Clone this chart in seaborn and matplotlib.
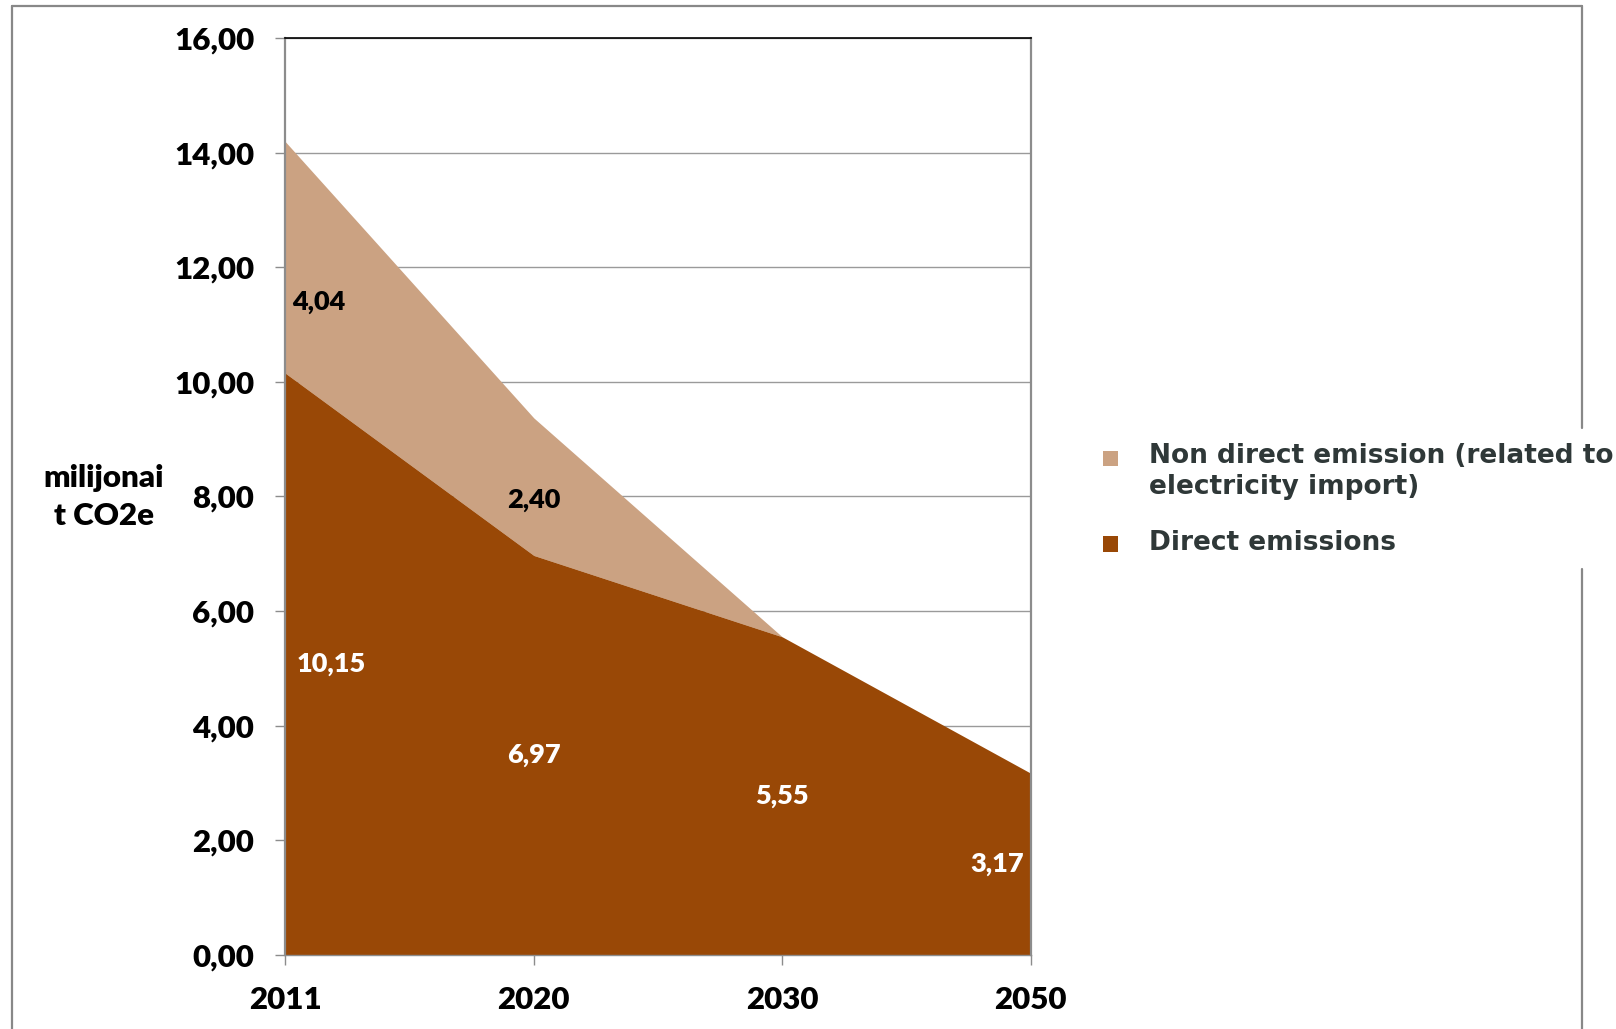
import matplotlib
matplotlib.use("Agg")
import matplotlib.pyplot as plt
from matplotlib.lines import Line2D
from matplotlib.patches import Rectangle
import seaborn as sns
import pandas as pd

# Emission scenario data (million t CO2e)
years = ["2011", "2020", "2030", "2050"]
direct = [10.15, 6.97, 5.55, 3.17]
non_direct = [4.04, 2.40, 0.0, 0.0]
y_ticks = [0, 2, 4, 6, 8, 10, 12, 14, 16]

series_names = ["Non direct emission (related to\nelectricity import)", "Direct emissions"]
c_direct = "#994806"
c_non_direct = "#CBA282"

sns.set_theme(style="white")
plt.rcParams["font.family"] = ["Lato", "DejaVu Sans"]

df = pd.DataFrame({"year": years, "direct": direct, "non_direct": non_direct})
df["x"] = range(len(years))
df["total"] = df["direct"] + df["non_direct"]

# layout grid in a 1568 x 998 reference frame
W, H = 1568, 998

fig = plt.figure(figsize=(16.16, 10.29), dpi=100)
ax = fig.add_axes([277 / W, 1 - 926 / H, 723 / W, 889 / H])

ax.set_axisbelow(True)
ax.yaxis.grid(True, color="#9a9a9a", linewidth=1.0)

sns.lineplot(data=df, x="x", y="total", ax=ax, color=c_non_direct, linewidth=0, legend=False)
sns.lineplot(data=df, x="x", y="direct", ax=ax, color=c_direct, linewidth=0, legend=False)
ax.fill_between(df["x"], df["direct"], df["total"], color=c_non_direct, linewidth=0, zorder=2)
ax.fill_between(df["x"], 0, df["direct"], color=c_direct, linewidth=0, zorder=3)

ax.set_xlim(0, len(years) - 1)
ax.set_ylim(0, 16)
ax.set_xticks(df["x"])
ax.set_xticklabels(years)
ax.set_yticks(y_ticks)
ax.set_yticklabels([f"{v:.2f}".replace(".", ",") for v in y_ticks])
ax.set_xlabel("")
ax.set_ylabel("")

ax.tick_params(axis="both", which="major", direction="out", length=7.5, width=1.0,
               color="#8c8c8c", pad=15, labelsize=22.5, labelcolor="black")
ax.tick_params(axis="x", bottom=True)
ax.tick_params(axis="y", left=True)
for lbl in ax.get_xticklabels() + ax.get_yticklabels():
    lbl.set_fontweight("heavy")

for side in ["left", "right"]:
    ax.spines[side].set_color("#8c8c8c")
    ax.spines[side].set_linewidth(1.6)
ax.spines["top"].set_color("black")
ax.spines["top"].set_linewidth(1.2)
ax.spines["bottom"].set_color("#8c8c8c")
ax.spines["bottom"].set_linewidth(1.0)
for s in ax.spines.values():
    s.set_zorder(5)

# value labels
label_frac = [0.31, 0.40]
n = len(years)
for i, row in df.iterrows():
    if i == 0:
        ha, dx = "left", 8
    elif i == n - 1:
        ha, dx = "right", -5
    else:
        ha, dx = "center", 0
    ax.annotate(f"{row['direct']:.2f}".replace(".", ","), (row["x"], row["direct"] / 2),
                xytext=(dx, 0), textcoords="offset points", ha=ha, va="center",
                fontsize=19.5, fontweight="heavy", color="white", zorder=6)
    if row["non_direct"] > 0:
        ax.annotate(f"{row['non_direct']:.2f}".replace(".", ","),
                    (row["x"], row["direct"] + row["non_direct"] * label_frac[i]),
                    xytext=(dx * 0.6, 0), textcoords="offset points", ha=ha, va="center",
                    fontsize=19.5, fontweight="heavy", color="black", zorder=6)

# axis title
fig.text(101 / W, 1 - 482 / H, "milijonai\nt CO2e", ha="center", va="center",
         fontsize=22.5, fontweight="heavy", color="black", linespacing=1.45)

# legend
legend_text_color = "#2f3838"
fig.patches.append(Rectangle((1070 / W, 1 - 452 / H), 15 / W, 15 / H, transform=fig.transFigure,
                             facecolor=c_non_direct, edgecolor="none"))
fig.patches.append(Rectangle((1070 / W, 1 - 535 / H), 15 / W, 15 / H, transform=fig.transFigure,
                             facecolor=c_direct, edgecolor="none"))
fig.text(1115 / W, 1 - 457 / H, series_names[0], ha="left", va="center",
         family="DejaVu Sans", fontsize=19, fontweight="bold", color=legend_text_color,
         linespacing=1.25)
fig.text(1115 / W, 1 - 527 / H, series_names[1], ha="left", va="center",
         family="DejaVu Sans", fontsize=19, fontweight="bold", color=legend_text_color)

# outer frame
frame_kw = dict(color="#888888", linewidth=1.6, transform=fig.transFigure)
fig.lines.append(Line2D([12 / W, 12 / W], [0, 1 - 6 / H], **frame_kw))
fig.lines.append(Line2D([12 / W, 1535 / W], [1 - 6 / H, 1 - 6 / H], **frame_kw))
fig.lines.append(Line2D([1535 / W, 1535 / W], [1 - 6 / H, 1 - 415 / H], **frame_kw))
fig.lines.append(Line2D([1535 / W, 1535 / W], [1 - 552 / H, 0], **frame_kw))

fig.savefig("out.png", dpi=100)
